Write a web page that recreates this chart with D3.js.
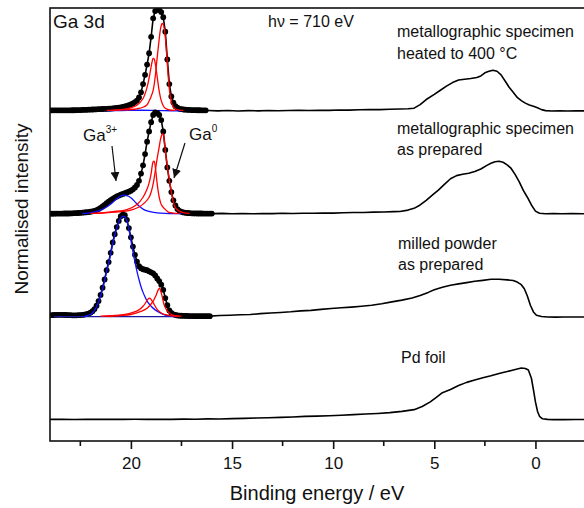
<!DOCTYPE html>
<html>
<head>
<meta charset="utf-8">
<script src="https://cdn.jsdelivr.net/npm/d3@7"></script>
<style>
  body { margin: 0; background: #fff; }
  svg { display: block; font-family: "Liberation Sans", Arial, sans-serif; }
</style>
</head>
<body>
<div id="chart"></div>
<script>
// Ga 3d measured points: start at 24.0 eV, one point every 0.1 eV towards lower binding energy
const dotsStart = 24.0, dotsStep = 0.1;

const dotsHeated = [
  0.005, 0.005, 0.005, 0.005, 0.005, 0.005, 0.005, 0.005, 0.005, 0.005,
  0.005, 0.006, 0.006, 0.007, 0.008, 0.008, 0.009, 0.010, 0.010, 0.011,
  0.012, 0.013, 0.014, 0.015, 0.016, 0.017, 0.018, 0.019, 0.020, 0.021,
  0.022, 0.024, 0.026, 0.028, 0.031, 0.034, 0.038, 0.043, 0.048, 0.055,
  0.062, 0.072, 0.085, 0.10, 0.13, 0.18, 0.26, 0.35, 0.45, 0.56,
  0.72, 0.90, 0.97, 0.99, 0.98, 0.96, 0.91, 0.77, 0.50, 0.26,
  0.14, 0.08, 0.045, 0.03, 0.02, 0.016, 0.013, 0.011, 0.010, 0.009,
  0.008, 0.007, 0.007, 0.006, 0.006, 0.005, 0.005, 0.005
];

const dotsPrepared = [
  0.0, 0.0, 0.0, 0.001, 0.001, 0.001, 0.001, 0.002, 0.002, 0.002,
  0.003, 0.004, 0.005, 0.006, 0.007, 0.009, 0.010, 0.012, 0.014, 0.016,
  0.019, 0.023, 0.028, 0.035, 0.045, 0.057, 0.070, 0.086, 0.102, 0.117,
  0.131, 0.145, 0.157, 0.167, 0.176, 0.185, 0.192, 0.199, 0.206, 0.214,
  0.224, 0.237, 0.255, 0.28, 0.32, 0.39, 0.47, 0.58, 0.70, 0.80,
  0.89, 0.96, 0.985, 0.98, 0.96, 0.91, 0.80, 0.62, 0.45, 0.32,
  0.21, 0.13, 0.08, 0.045, 0.028, 0.018, 0.012, 0.009, 0.007, 0.005,
  0.004, 0.003, 0.003, 0.002, 0.002, 0.002, 0.001, 0.001, 0.001, 0.001,
  0.001
];

const dotsMilled = [
  0.012, 0.014, 0.015, 0.016, 0.017, 0.017, 0.017, 0.016, 0.015, 0.014,
  0.013, 0.012, 0.012, 0.012, 0.013, 0.014, 0.016, 0.019, 0.023, 0.029,
  0.038, 0.052, 0.073, 0.105, 0.15, 0.21, 0.28, 0.36, 0.45, 0.53,
  0.62, 0.72, 0.80, 0.87, 0.93, 0.975, 0.99, 0.985, 0.94, 0.86,
  0.77, 0.68, 0.60, 0.535, 0.49, 0.47, 0.46, 0.455, 0.45, 0.44,
  0.43, 0.42, 0.40, 0.37, 0.345, 0.31, 0.26, 0.18, 0.11, 0.06,
  0.035, 0.022, 0.015, 0.011, 0.009, 0.008, 0.007, 0.006, 0.006, 0.005,
  0.005, 0.005, 0.004, 0.004, 0.004, 0.004, 0.004, 0.004, 0.004, 0.004
];

// valence band region, [binding energy, intensity]
const vbHeated = [
  [16.2,0.004],[15.7,0.0],[15.2,0.003],[14.7,-0.001],[14.2,0.002],[13.7,0.0],[13.2,0.004],[12.7,0.001],
  [12.2,0.003],[11.7,0.005],[11.2,0.003],[10.7,0.006],[10.2,0.005],[9.7,0.008],[9.2,0.007],[8.7,0.011],
  [8.2,0.013],[7.7,0.012],[7.2,0.016],[6.7,0.018],[6.3,0.02],[6.0,0.026],[5.7,0.06],[5.4,0.11],
  [5.0,0.16],[4.7,0.20],[4.4,0.24],[4.1,0.275],[3.8,0.30],[3.5,0.308],[3.2,0.315],[2.9,0.325],
  [2.7,0.34],[2.5,0.37],[2.3,0.385],[2.1,0.395],[1.9,0.385],[1.7,0.35],[1.5,0.29],[1.3,0.23],
  [1.1,0.18],[0.9,0.13],[0.7,0.10],[0.5,0.075],[0.3,0.057],[0.1,0.045],[-0.1,0.03],[-0.3,0.012],
  [-0.5,0.002],[-0.8,-0.002],[-1.2,0.001],[-1.6,-0.001],[-2.0,0.001],[-2.5,0.0]
];

const vbPrepared = [
  [16.0,0.001],[15.5,0.003],[15.0,0.0],[14.5,0.002],[14.0,-0.001],[13.5,0.002],[13.0,0.001],[12.5,0.004],
  [12.0,0.002],[11.5,0.005],[11.0,0.004],[10.5,0.007],[10.0,0.006],[9.5,0.009],[9.0,0.011],[8.5,0.012],
  [8.0,0.015],[7.5,0.017],[7.0,0.02],[6.7,0.022],[6.3,0.035],[6.0,0.052],[5.7,0.085],[5.4,0.13],
  [5.1,0.18],[4.8,0.23],[4.5,0.285],[4.2,0.34],[3.9,0.37],[3.6,0.383],[3.3,0.393],[3.0,0.41],
  [2.7,0.435],[2.4,0.47],[2.2,0.49],[2.0,0.505],[1.8,0.51],[1.6,0.50],[1.4,0.475],[1.2,0.44],
  [1.0,0.38],[0.8,0.31],[0.6,0.226],[0.4,0.16],[0.2,0.085],[0.0,0.025],[-0.2,0.004],[-0.5,0.0],
  [-0.9,0.002],[-1.3,-0.001],[-1.8,0.001],[-2.5,0.0]
];

const vbMilled = [
  [16.1,0.004],[15.6,0.01],[15.1,0.013],[14.6,0.018],[14.1,0.02],[13.6,0.028],[13.1,0.034],[12.6,0.04],
  [12.1,0.046],[11.6,0.055],[11.1,0.06],[10.6,0.07],[10.1,0.078],[9.6,0.085],[9.1,0.092],[8.6,0.10],
  [8.1,0.11],[7.6,0.125],[7.1,0.143],[6.6,0.16],[6.1,0.18],[5.7,0.205],[5.3,0.235],[5.0,0.26],
  [4.6,0.285],[4.2,0.305],[3.8,0.318],[3.4,0.33],[3.0,0.343],[2.6,0.352],[2.2,0.362],[1.8,0.362],
  [1.4,0.357],[1.1,0.35],[0.9,0.335],[0.7,0.31],[0.55,0.27],[0.4,0.2],[0.25,0.11],[0.1,0.045],
  [-0.05,0.012],[-0.3,0.0],[-0.6,-0.004],[-1.0,-0.006],[-1.4,-0.004],[-2.0,-0.005],[-2.5,-0.005]
];

const pdFoil = [
  [24.0,0.0],[23.4,0.002],[22.8,-0.001],[22.2,0.001],[21.6,0.0],[21.0,0.002],[20.4,0.0],[19.8,0.001],
  [19.2,0.0],[18.6,0.002],[18.0,0.0],[17.4,0.003],[16.8,0.002],[16.2,0.005],[15.6,0.004],[15.0,0.008],
  [14.4,0.01],[13.8,0.013],[13.2,0.016],[12.6,0.02],[12.0,0.024],[11.4,0.029],[10.8,0.032],[10.2,0.036],
  [9.6,0.04],[9.0,0.046],[8.4,0.052],[7.8,0.058],[7.2,0.066],[6.6,0.078],[6.0,0.095],[5.6,0.125],
  [5.2,0.17],[4.9,0.215],[4.6,0.26],[4.2,0.29],[3.8,0.33],[3.4,0.36],[3.0,0.383],[2.6,0.405],
  [2.2,0.425],[1.8,0.447],[1.4,0.465],[1.0,0.485],[0.7,0.50],[0.5,0.495],[0.35,0.48],[0.2,0.40],
  [0.1,0.29],[0.0,0.17],[-0.1,0.08],[-0.2,0.03],[-0.35,0.006],[-0.6,0.0],[-0.9,-0.002],[-1.4,-0.002],
  [-2.0,-0.001],[-2.5,-0.001]
];

// fitted components (red = Ga0 3d5/2 and 3d3/2, blue = Ga3+)
const fitHeated = {
  red: [
    [[21.0,0.004],[20.5,0.008],[20.0,0.013],[19.7,0.02],[19.4,0.035],[19.2,0.06],[19.1,0.095],[19.0,0.14],
     [18.9,0.2],[18.8,0.33],[18.7,0.52],[18.6,0.70],[18.55,0.78],[18.5,0.83],[18.45,0.85],[18.4,0.84],
     [18.35,0.80],[18.3,0.72],[18.25,0.60],[18.2,0.46],[18.1,0.21],[18.0,0.085],[17.9,0.037],[17.8,0.018],
     [17.6,0.008],[17.4,0.004]],
    [[21.2,0.004],[20.8,0.008],[20.4,0.015],[20.0,0.03],[19.7,0.055],[19.4,0.12],[19.2,0.23],[19.1,0.32],
     [19.0,0.43],[18.95,0.48],[18.9,0.51],[18.85,0.505],[18.8,0.465],[18.75,0.40],[18.7,0.33],[18.6,0.19],
     [18.5,0.10],[18.4,0.05],[18.3,0.025],[18.1,0.01],[17.8,0.004]]
  ],
  blue: [[21.2,0.0],[20.5,0.003],[20.0,0.005],[19.5,0.006],[19.0,0.005],[18.5,0.003],[18.0,0.001],[17.5,0.0]]
};

const fitPrepared = {
  red: [
    [[21.8,0.003],[21.4,0.006],[20.8,0.015],[20.1,0.03],[19.6,0.065],[19.3,0.11],[19.1,0.16],[19.0,0.21],
     [18.9,0.29],[18.8,0.41],[18.7,0.54],[18.6,0.65],[18.55,0.71],[18.5,0.75],[18.45,0.775],[18.4,0.77],
     [18.35,0.71],[18.3,0.61],[18.25,0.535],[18.2,0.46],[18.1,0.33],[18.0,0.21],[17.9,0.11],[17.8,0.06],
     [17.65,0.03],[17.4,0.01],[17.1,0.004]],
    [[22.0,0.003],[21.7,0.005],[20.9,0.02],[20.2,0.04],[19.7,0.09],[19.4,0.16],[19.2,0.24],[19.1,0.30],
     [19.0,0.39],[18.95,0.46],[18.9,0.505],[18.85,0.51],[18.8,0.465],[18.75,0.38],[18.7,0.29],[18.6,0.16],
     [18.5,0.09],[18.35,0.05],[18.15,0.016],[17.9,0.006],[17.6,0.002]]
  ],
  blue: [[22.4,0.002],[22.1,0.006],[21.8,0.017],[21.5,0.035],[21.2,0.065],[20.9,0.11],[20.7,0.145],[20.5,0.172],
         [20.35,0.18],[20.2,0.175],[20.0,0.155],[19.8,0.115],[19.6,0.075],[19.4,0.045],[19.2,0.027],[19.0,0.017],
         [18.7,0.009],[18.3,0.004],[17.8,0.001],[17.5,0.0]]
};

const fitMilled = {
  red: [
    [[21.5,0.003],[20.8,0.01],[20.3,0.02],[19.9,0.04],[19.6,0.065],[19.4,0.1],[19.25,0.14],[19.15,0.17],
     [19.08,0.18],[19.0,0.165],[18.9,0.135],[18.8,0.10],[18.7,0.07],[18.5,0.035],[18.3,0.018],[18.0,0.007],[17.6,0.002]],
    [[21.2,0.003],[20.5,0.01],[20.0,0.02],[19.5,0.05],[19.2,0.08],[18.9,0.15],[18.75,0.21],[18.65,0.26],
     [18.59,0.275],[18.5,0.23],[18.45,0.19],[18.35,0.11],[18.2,0.055],[18.0,0.02],[17.8,0.008],[17.5,0.002]]
  ],
  blue: [[22.3,0.002],[22.0,0.02],[21.9,0.035],[21.8,0.06],[21.7,0.095],[21.6,0.14],[21.5,0.2],[21.4,0.27],
         [21.3,0.35],[21.2,0.44],[21.1,0.52],[21.0,0.61],[20.9,0.71],[20.8,0.79],[20.7,0.86],[20.6,0.92],
         [20.5,0.96],[20.4,0.975],[20.3,0.97],[20.2,0.93],[20.1,0.85],[20.0,0.74],[19.9,0.63],[19.8,0.53],
         [19.7,0.44],[19.6,0.36],[19.5,0.29],[19.4,0.235],[19.3,0.19],[19.2,0.15],[19.0,0.10],[18.8,0.065],
         [18.6,0.04],[18.4,0.022],[18.2,0.01],[18.0,0.004],[17.7,0.0]]
};

// flat fit backgrounds
const bgMilled = [[23.8,0.0],[17.7,0.0]];

const xTicks = [20, 15, 10, 5, 0];
const xMinorTicks = [22.5, 17.5, 12.5, 7.5, 2.5];

// ---- layout ----
const width = 584, height = 508;
const margin = { top: 8, left: 50, bottom: 67, right: -1 };
const plotRight = width - margin.right;
const plotBottom = height - margin.bottom;

const svg = d3.select("#chart").append("svg")
    .attr("width", width)
    .attr("height", height);

const x = d3.scaleLinear().domain([24, -2.45]).range([margin.left, plotRight]);
const y = d3.scaleLinear().domain([-0.21, 4.0]).range([plotBottom, margin.top]);

svg.append("clipPath").attr("id", "plot-clip")
  .append("rect")
    .attr("x", margin.left).attr("y", margin.top)
    .attr("width", plotRight - margin.left).attr("height", plotBottom - margin.top);

const plot = svg.append("g").attr("clip-path", "url(#plot-clip)");

const dataLine = d3.line().x(d => x(d[0])).y(d => y(d[1]));
const fitLine = d3.line().x(d => x(d[0])).y(d => y(d[1])).curve(d3.curveCatmullRom.alpha(0.5));

function toPoints(vals) {
  return vals.map((v, i) => [+(dotsStart - i * dotsStep).toFixed(2), v]);
}

const spectra = [
  { offset: 3, dots: dotsHeated, vb: vbHeated, fit: fitHeated },
  { offset: 2, dots: dotsPrepared, vb: vbPrepared, fit: fitPrepared },
  { offset: 1, dots: dotsMilled, vb: vbMilled, fit: fitMilled, bg: bgMilled }
];

spectra.forEach(s => {
  const pts = toPoints(s.dots);
  const shift = p => [p[0], p[1] + s.offset];
  const g = plot.append("g");

  g.append("path")
    .datum(pts.concat(s.vb).map(shift))
    .attr("fill", "none")
    .attr("stroke", "#000")
    .attr("stroke-width", 1.6)
    .attr("stroke-linejoin", "round")
    .attr("d", dataLine);

  g.selectAll("circle")
    .data(pts.map(shift))
    .join("circle")
      .attr("cx", d => x(d[0]))
      .attr("cy", d => y(d[1]))
      .attr("r", 2.9)
      .attr("fill", "#000");

  if (s.bg) {
    g.append("path").datum(s.bg.map(shift))
      .attr("fill", "none").attr("stroke", "#1a1aa0").attr("stroke-width", 1.3)
      .attr("d", dataLine);
  }

  g.append("path").datum(s.fit.blue.map(shift))
    .attr("fill", "none").attr("stroke", "#1010ff").attr("stroke-width", 1.3)
    .attr("d", fitLine);

  s.fit.red.forEach(c => {
    g.append("path").datum(c.map(shift))
      .attr("fill", "none").attr("stroke", "#ff0000").attr("stroke-width", 1.3)
      .attr("d", fitLine);
  });
});

// Pd foil reference, offset 0
plot.append("path")
  .datum(pdFoil)
  .attr("fill", "none")
  .attr("stroke", "#000")
  .attr("stroke-width", 1.6)
  .attr("stroke-linejoin", "round")
  .attr("d", dataLine);

// ---- frame and axis ----
svg.append("rect")
  .attr("x", margin.left).attr("y", margin.top)
  .attr("width", plotRight - margin.left).attr("height", plotBottom - margin.top)
  .attr("fill", "none").attr("stroke", "#111").attr("stroke-width", 1.6);

const xAxis = svg.append("g")
  .attr("transform", `translate(0,${plotBottom})`)
  .call(d3.axisBottom(x).tickValues(xTicks).tickSize(8).tickPadding(8).tickSizeOuter(0));
xAxis.select(".domain").remove();
xAxis.selectAll(".tick line").attr("stroke", "#111").attr("stroke-width", 1.6);
xAxis.selectAll(".tick text")
  .attr("fill", "#111")
  .style("font-size", "17px")
  .style("font-family", "'Liberation Sans', Arial, sans-serif");

svg.append("g").selectAll("line")
  .data(xMinorTicks)
  .join("line")
    .attr("x1", d => x(d)).attr("x2", d => x(d))
    .attr("y1", plotBottom).attr("y2", plotBottom + 5)
    .attr("stroke", "#111").attr("stroke-width", 1.6);

svg.append("text")
  .attr("x", (margin.left + width) / 2)
  .attr("y", 500)
  .attr("text-anchor", "middle")
  .attr("fill", "#111")
  .style("font-size", "20px")
  .text("Binding energy / eV");

svg.append("text")
  .attr("transform", "rotate(-90)")
  .attr("x", -209)
  .attr("y", 28)
  .attr("text-anchor", "middle")
  .attr("fill", "#111")
  .style("font-size", "19px")
  .text("Normalised intensity");

// ---- annotations ----
const note = (tx, ty, str, size) => svg.append("text")
  .attr("x", tx).attr("y", ty)
  .attr("fill", "#111")
  .style("font-size", size + "px")
  .text(str);

note(53, 28, "Ga 3d", 19);
note(268, 27, "h\u03bd = 710 eV", 16);
note(397, 37, "metallographic specimen", 16);
note(397, 59, "heated to 400 \u00b0C", 16);
note(397, 134, "metallographic specimen", 16);
note(397, 155, "as prepared", 16);
note(398, 249, "milled powder", 16);
note(398, 270, "as prepared", 16);
note(401, 363, "Pd foil", 16);

const ga3 = note(83, 141, "Ga", 17);
ga3.append("tspan").attr("dy", -8).style("font-size", "10px").text("3+");
const ga0 = note(189, 140, "Ga", 17);
ga0.append("tspan").attr("dy", -8).style("font-size", "10px").text("0");

svg.append("defs").append("marker")
    .attr("id", "head")
    .attr("viewBox", "0 0 10 10")
    .attr("refX", 10).attr("refY", 5)
    .attr("markerWidth", 9).attr("markerHeight", 9)
    .attr("markerUnits", "userSpaceOnUse")
    .attr("orient", "auto")
  .append("path")
    .attr("d", "M0,0 L10,5 L0,10 Z")
    .attr("fill", "#111");

[[112, 146, 116, 181], [185, 143, 174, 178]].forEach(a => {
  svg.append("line")
    .attr("x1", a[0]).attr("y1", a[1]).attr("x2", a[2]).attr("y2", a[3])
    .attr("stroke", "#111").attr("stroke-width", 1.2)
    .attr("marker-end", "url(#head)");
});
</script>
</body>
</html>
